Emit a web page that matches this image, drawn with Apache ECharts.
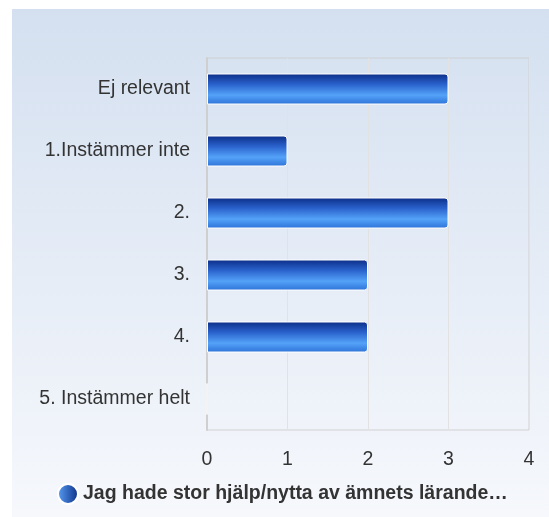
<!DOCTYPE html>
<html>
<head>
<meta charset="utf-8">
<script src="https://cdn.jsdelivr.net/npm/echarts@6/dist/echarts.min.js"></script>
<style>
html,body{margin:0;padding:0;background:#fff;}
#c{width:549px;height:517px;}
</style>
</head>
<body>
<div id="c"></div>
<script>
const categories = ["Ej relevant", "1.Instämmer inte", "2.", "3.", "4.", "5. Instämmer helt"];
const values = [3, 1, 3, 2, 2, 0];
const seriesName = "Jag hade stor hjälp/nytta av ämnets lärande…";
const xTicks = [0, 1, 2, 3, 4];

const chart = echarts.init(document.getElementById('c'));
const barGrad = new echarts.graphic.LinearGradient(0, 0, 0, 1, [
  {offset: 0, color: '#0b2d86'},
  {offset: 0.35, color: '#2a62cc'},
  {offset: 0.7, color: '#54a2f8'},
  {offset: 1, color: '#2d72d8'}
]);
const FONT = 'Liberation Sans, Arial, sans-serif';
chart.setOption({
  animation: false,
  graphic: [{
    type: 'rect', left: 12, top: 9, z: -10,
    shape: {width: 537, height: 508},
    style: {fill: new echarts.graphic.LinearGradient(0, 0, 0, 1, [
      {offset: 0, color: '#d4e0f0'},
      {offset: 1, color: '#f6f8fc'}
    ])}
  }],
  grid: {left: 207, right: 20, top: 58, bottom: 87, containLabel: false,
         show: true, borderColor: '#d0d0d0', borderWidth: 1},
  xAxis: {
    type: 'value', min: xTicks[0], max: xTicks[xTicks.length - 1], interval: 1,
    axisLine: {show: false}, axisTick: {show: false},
    axisLabel: {color: '#333', fontSize: 19.5, fontFamily: FONT, margin: 20},
    splitLine: {lineStyle: {color: '#e2e2e2'}}
  },
  yAxis: {
    type: 'category', data: categories, inverse: true,
    axisLine: {show: true, lineStyle: {color: '#cfcfcf', width: 2}},
    axisTick: {show: false},
    axisLabel: {color: '#333', fontSize: 19.5, fontFamily: FONT, margin: 17}
  },
  legend: {
    bottom: 7, left: 52, icon: 'circle', itemWidth: 20, itemHeight: 20, itemGap: 6, padding: 5,
    textStyle: {color: '#333', fontSize: 19.5, fontWeight: 'bold', fontFamily: FONT},
    data: [{name: seriesName, itemStyle: {color: new echarts.graphic.LinearGradient(0, 0, 1, 0, [
      {offset: 0, color: '#5aa0f5'}, {offset: 1, color: '#0b2d86'}])}}]
  },
  series: [{
    type: 'bar', name: seriesName, data: values, barWidth: '50%',
    itemStyle: {color: barGrad, borderColor: '#ffffff', borderWidth: 1, borderRadius: [0, 3, 3, 0]}
  }]
});
</script>
</body>
</html>
